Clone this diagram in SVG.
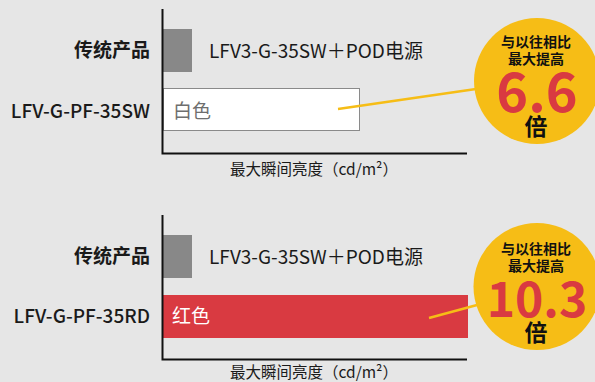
<svg xmlns="http://www.w3.org/2000/svg" width="595" height="382" viewBox="0 0 595 382">
<style>
text{font-family:"Noto Sans CJK SC","Noto Sans",sans-serif;}
.lbl{font-size:19px;fill:#1a1a1a;text-anchor:end;font-weight:500;}
.lblb{font-size:19px;fill:#1a1a1a;text-anchor:end;font-weight:700;}
.bt{font-size:19px;fill:#1a1a1a;}
.ax{fill:none;stroke:#111;stroke-width:2;}
.axt{font-size:15.5px;fill:#1a1a1a;}
.badge{fill:#F6BD16;}
.bs{font-size:14px;font-weight:700;fill:#111;text-anchor:middle;}
.big{font-weight:700;fill:#D93A41;text-anchor:middle;}
.bei{font-size:23px;font-weight:700;fill:#111;text-anchor:middle;}
.conn{stroke:#F6BD16;stroke-width:2.5;fill:none;}
</style>
<rect width="595" height="382" fill="#E6E6E6"/>
<g id="chart1">
<rect x="163" y="29" width="29" height="43" fill="#888888"/>
<rect x="163.5" y="88.5" width="196" height="42" fill="#FFFFFF" stroke="#8a8a8a" stroke-width="1"/>
<path class="ax" d="M162.5 9 V153.5 H467"/>
<text class="lblb" x="150" y="57">传统产品</text>
<text class="lbl" x="150" y="118">LFV-G-PF-35SW</text>
<text class="bt" x="209" y="58">LFV3-G-35SW＋POD电源</text>
<text x="173" y="118" style="font-size:19px;fill:#6e6e6e;">白色</text>
<text class="axt" x="230" y="175">最大瞬间亮度（cd/m²）</text>
</g>
<g id="chart2">
<rect x="163" y="235" width="29" height="43" fill="#888888"/>
<rect x="163" y="295" width="305" height="43" fill="#D93A41"/>
<path class="ax" d="M162.5 215 V359.5 H467"/>
<text class="lblb" x="150" y="263">传统产品</text>
<text class="lbl" x="150" y="323">LFV-G-PF-35RD</text>
<text class="bt" x="209" y="264">LFV3-G-35SW＋POD电源</text>
<text x="172" y="323" style="font-size:19px;fill:#FFFFFF;">红色</text>
<text class="axt" x="230" y="378">最大瞬间亮度（cd/m²）</text>
</g>
<g id="connectors">
<line class="conn" x1="338" y1="109" x2="476" y2="89"/>
<line class="conn" x1="429" y1="318" x2="477" y2="305"/>
</g>
<g id="badge1">
<circle class="badge" cx="537" cy="81" r="63"/>
<text class="bs" x="536" y="47">与以往相比</text>
<text class="bs" x="536" y="64">最大提高</text>
<text class="big" x="537" y="112" style="font-size:54px;">6.6</text>
<text class="bei" x="536" y="135">倍</text>
</g>
<g id="badge2">
<circle class="badge" cx="537" cy="286.5" r="63.5"/>
<text class="bs" x="536" y="254">与以往相比</text>
<text class="bs" x="536" y="271">最大提高</text>
<text class="big" x="537" y="317" style="font-size:48px;">10.3</text>
<text class="bei" x="536" y="341">倍</text>
</g>
</svg>
